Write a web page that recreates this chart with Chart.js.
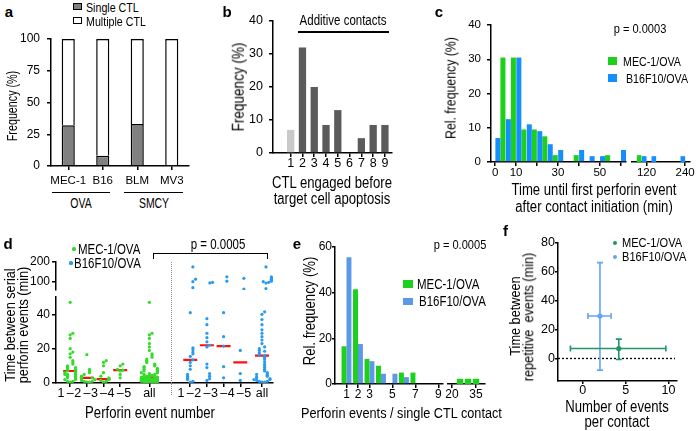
<!DOCTYPE html>
<html><head><meta charset="utf-8">
<script src="https://cdn.jsdelivr.net/npm/chart.js@4.4.1/dist/chart.umd.min.js"></script>
<style>
html,body{margin:0;padding:0;background:#fff;}
#root{position:relative;width:696px;height:431px;overflow:hidden;background:#fff;}
canvas{position:absolute;}
</style></head><body><div id="root"></div>
<script>
// ================= DATA =================
// (a)
const aCategories = ['MEC-1', 'B16', 'BLM', 'MV3'];
const aSingleCTL = [32, 8, 33, 0];
const aMultipleCTL = [68, 92, 67, 100];
const aYTicks = [0, 25, 50, 75, 100];
const aGroups = ['OVA', 'SMCY'];
// (b)
const bCTLEngaged = [1, 2, 3, 4, 5, 6, 7, 8, 9];
const bFrequency = [7, 32, 20, 8.5, 13, 0, 4.5, 8.5, 8.5];
const bYTicks = [0, 10, 20, 30, 40];
// (c)
const cBinStart = [0, 5, 10, 15, 20, 25, 30, 35, 40, 45, 50, 55, 60];
const cMEC1 = [30.5, 30.5, 9.5, 9.5, 7.5, 2, 0, 2, 0, 0, 2, 0, 0];
const cB16F10 = [7, 12.5, 30.5, 11, 9, 5.2, 3.5, 0, 3.5, 1.7, 1.7, 0, 3.5];
const cXTicks = [0, 10, 20, 30, 40, 50, 60];
const cXTickLabels = [0, 10, 30, 50];
const cTailBins = ['100', '120', '140', '160', '200', '240'];
const cTailMEC1 = [2, 0, 0, 0, 0, 0];
const cTailB16F10 = [0, 1.7, 1.7, 0, 0, 1.7];
const cTailTickLabels = ['120', '240'];
const cYTicks = [0, 10, 20, 30, 40];
// (d)
const dGroups = ['1–2', '2–3', '3–4', '4–5', 'all'];
const dNumberLabels = ['1', '2', '3', '4', '5'];
const dMEC1_12 = [47, 29, 28, 26, 20, 18, 17, 15, 13, 12, 11, 10, 9, 9, 8, 8, 7, 7, 6, 6, 5, 5, 5, 4, 4, 3, 3, 2, 2, 1, 1, 0.5];
const dMEC1_23 = [16.5, 8, 7, 6, 5, 4, 3.5, 3, 3, 2.5, 2, 1.5, 1, 1, 0.5, 0.5];
const dMEC1_34 = [13, 12, 10, 6, 4, 3, 2.5, 2, 1.5, 1, 0.5];
const dMEC1_45 = [11, 10, 8, 7.5, 7, 5, 3];
const dMEC1_all = [47, 29, 28, 26, 23, 21, 19, 17, 16, 15, 14, 13, 12.5, 12, 11, 10.5, 10, 9.5, 9, 8.5, 8, 8, 7.5, 7, 7, 6.5, 6, 6, 5.5, 5, 5, 4.5, 4.5, 4, 4, 4, 3.5, 3.5, 3.5, 3.5, 3, 3, 3, 3, 3, 2.5, 2.5, 2.5, 2.5, 2, 2, 2, 2, 2, 1.5, 1.5, 1.5, 1.5, 1, 1, 1, 1, 1, 0.5, 0.5, 0.5, 0.5, 0.5, 3.2, 2.8, 2.2, 1.8, 1.2, 0.8];
const dB16_12 = [175, 113, 100, 70, 41, 20.5, 19.5, 18, 17, 15.5, 13.5, 12, 10, 8, 5, 4, 3.5, 2.5, 2, 1, 0.5];
const dB16_23 = [97, 94, 37.5, 34, 29, 26.5, 24, 22, 21, 11, 9, 5.5, 4, 2.5, 1.5];
const dB16_34 = [125, 103, 41, 27, 21.5, 9.5, 3];
const dB16_45 = [117, 62, 19, 5.5, 1.5];
const dB16_all = [175, 125, 120, 115, 112, 108, 103, 100, 97, 93, 65, 41.5, 40, 37, 34, 31, 29, 27, 25, 23, 21, 20, 19, 18.5, 17.5, 16.5, 16, 15, 14, 12.5, 11, 10, 9, 8, 7, 6, 5, 5, 4.5, 4, 3.5, 3, 2.5, 2, 2, 1.5, 1, 1, 0.5, 0.5];
const dMEC1Median = [7, 3, 2.3, 7.5, 3.2];
const dB16Median = [13.5, 22, 21.5, 12, 16];
const dLowerTicks = [0, 20, 40];
const dUpperTicks = [100, 200];
// (e)
const eEvents = [1, 2, 3, 4, 5, 6, 7, 8, 9];
const eMEC1 = [16.5, 41.5, 11, 8, 0, 5, 5, 0, 0];
const eB16F10 = [55.5, 17.5, 10, 4.5, 4.5, 3, 0, 0, 0];
const eXTickLabels = [1, 2, 3, 5, 7, 9];
const eTailEvents = [25, 30, 35];
const eTailMEC1 = [2.3, 2.3, 2.3];
const eTailTicks = [20, 35];
const eYTicks = [0, 20, 40, 60];
// (f)
const fSeries = ['MEC-1/OVA', 'B16F10/OVA'];
const fMeanEvents = [4.2, 2.0];
const fEventsLow = [-1.45, 0.6];
const fEventsHigh = [9.7, 3.3];
const fMeanTime = [6.9, 29.4];
const fTimeLow = [-0.7, -8.1];
const fTimeHigh = [13.4, 66.4];
const fXTicks = [0, 5, 10];
const fYTicks = [0, 20, 40, 60, 80];

// ================= STYLE =================
const FONT = '"Liberation Sans", Arial, sans-serif';
const SX = 0.82; // horizontal condensing of label text, as in the figure
const GREEN = 'rgb(28,208,28)';
const BLUE_C = 'rgb(22,142,255)';
const BLUE_E = 'rgb(92,152,232)';
const GREEN_D = 'rgb(50,220,40)';
const BLUE_D = 'rgb(40,155,240)';
const GREEN_F = 'rgb(32,150,100)';
const BLUE_F = 'rgb(100,165,245)';

Chart.defaults.font.family = FONT;
Chart.defaults.font.lineHeight = 1;
Chart.defaults.color = '#000';
Chart.defaults.animation = false;
Chart.defaults.plugins.legend.display = false;
Chart.defaults.plugins.tooltip.enabled = false;

const root = document.getElementById('root');
function mk(left, top, w, h) {
  const c = document.createElement('canvas');
  c.width = w; c.height = h;
  c.style.cssText = `left:${left}px;top:${top}px;width:${w}px;height:${h}px`;
  root.appendChild(c);
  return c.getContext('2d');
}
function txt(s, x, y, o = {}) {
  const d = document.createElement('div');
  d.textContent = s;
  const size = o.size || 13;
  const sx = o.bold ? 1 : (o.sx ?? SX);
  const left = o.anchor === 'l';
  d.style.cssText = `position:absolute;left:${x}px;top:${y}px;font-size:${size}px;font-family:${FONT};font-weight:${o.bold ? 'bold' : 'normal'};white-space:pre;line-height:1;color:#000;transform-origin:${left ? '0 50%' : '50% 50%'};`;
  d.style.transform = `translate(${left ? '0' : '-50%'},-50%)` + (o.rot ? ` rotate(${o.rot}deg)` : '') + ` scaleX(${sx})`;
  root.appendChild(d);
}
function box(x, y, w, h, css) {
  const d = document.createElement('div');
  d.style.cssText = `position:absolute;left:${x}px;top:${y}px;width:${w}px;height:${h}px;box-sizing:border-box;${css}`;
  root.appendChild(d);
}
function linAxis(o) {
  return {
    type: 'linear', min: o.min, max: o.max, display: o.display ?? true,
    position: o.pos, offset: false,
    afterBuildTicks: s => { s.ticks = o.ticks.map(v => ({ value: v })); },
    afterFit: s => { if (o.pos === 'left') s.width = o.size; else s.height = o.size; },
    border: { display: true, color: '#000', width: 1.5 },
    grid: { display: true, drawOnChartArea: false, drawTicks: true, tickLength: o.tickLen ?? 4, color: '#000', lineWidth: 1.5, offset: false },
    ticks: { font: { size: o.font || 12 }, padding: o.pad ?? 3, color: '#000', autoSkip: false, maxRotation: 0, callback: o.cb || (v => String(v)) }
  };
}
const base = (pad) => ({ responsive: false, devicePixelRatio: 1, animation: false, layout: { padding: pad }, plugins: { legend: { display: false }, tooltip: { enabled: false } } });

// ================= (a) =================
new Chart(mk(0, 24, 194, 166), {
  type: 'bar',
  data: { labels: aCategories, datasets: [
    { label: 'Single CTL', data: aSingleCTL, backgroundColor: '#808080', borderColor: '#000', borderWidth: 1.5, borderSkipped: 'start', barPercentage: 0.38, categoryPercentage: 1 },
    { label: 'Multiple CTL', data: aMultipleCTL, backgroundColor: '#fff', borderColor: '#000', borderWidth: 1.5, borderSkipped: 'start', barPercentage: 0.38, categoryPercentage: 1 }
  ] },
  options: Object.assign(base({ top: 15, right: 5, left: 0, bottom: 0 }), {
    scales: {
      x: { type: 'category', stacked: true, offset: true, afterFit: s => { s.height = 24; },
        border: { display: true, color: '#000', width: 1.5 },
        grid: { offset: false, drawOnChartArea: false, tickLength: 4, color: '#000', lineWidth: 1.5 },
        ticks: { font: { size: 11.5 }, padding: 5, color: '#000', autoSkip: false, maxRotation: 0 } },
      y: Object.assign(linAxis({ min: 0, max: 100, ticks: aYTicks, pos: 'left', size: 51, pad: 7, font: 12 }), { stacked: true })
    }
  })
});
txt('a', 9, 11, { bold: true, size: 15 });
box(73, 3, 9, 7, 'background:#808080;border:1.2px solid #000;');
txt('Single CTL', 86, 6.5, { anchor: 'l', size: 13 });
box(73, 17, 9, 7, 'background:#fff;border:1.2px solid #000;');
txt('Multiple CTL', 86, 21, { anchor: 'l', size: 13 });
txt('Frequency (%)', 12, 106, { rot: -90, size: 14.5, sx: 0.74 });
box(52, 191.5, 58, 1.5, 'background:#000;');
box(124, 191.5, 59, 1.5, 'background:#000;');
txt(aGroups[0], 81, 203, { size: 14.5, sx: 0.72 });
txt(aGroups[1], 154, 203, { size: 14.5, sx: 0.72 });

// ================= (b) =================
new Chart(mk(225, 7, 172, 170), {
  type: 'bar',
  data: { datasets: [{ data: bCTLEngaged.map((n, i) => ({ x: n, y: bFrequency[i] })),
    backgroundColor: bCTLEngaged.map(n => n === 1 ? '#c9c9c9' : '#5b5b5b'), barPercentage: 0.62, categoryPercentage: 1 }] },
  options: Object.assign(base({ top: 14, right: 5, left: 0, bottom: 0 }), {
    scales: {
      x: linAxis({ min: -0.5, max: 9.6, ticks: bCTLEngaged, pos: 'bottom', size: 24, pad: 0, font: 12.5 }),
      y: linAxis({ min: 0, max: 40, ticks: bYTicks, pos: 'left', size: 48, pad: 6, font: 12.5 })
    }
  })
});
txt('b', 227, 11, { bold: true, size: 15 });
txt('Additive contacts', 343, 20, { size: 14 });
box(298, 31, 91, 2, 'background:#000;');
txt('Frequency (%)', 238, 87, { rot: -90, size: 16.5 });
txt('CTL engaged before', 332, 183, { size: 16 });
txt('target cell apoptosis', 332, 199, { size: 16 });

// ================= (c) =================
const C_BIN = 5;
new Chart(mk(440, 12, 191, 174), {
  type: 'bar',
  data: { datasets: [
    { label: 'B16F10/OVA', data: cBinStart.map((s, i) => ({ x: s + C_BIN / 2, y: cB16F10[i] })), backgroundColor: BLUE_C, barPercentage: 1, categoryPercentage: 0.96 },
    { label: 'MEC-1/OVA', data: cBinStart.map((s, i) => ({ x: s + C_BIN / 2, y: cMEC1[i] })), backgroundColor: GREEN, barPercentage: 1, categoryPercentage: 0.96 }
  ] },
  options: Object.assign(base({ top: 13, right: 5, left: 0, bottom: 0 }), {
    scales: {
      x: linAxis({ min: -2, max: 62.5, ticks: cXTicks, pos: 'bottom', size: 24, pad: 1, font: 11.5, cb: v => cXTickLabels.includes(v) ? String(v) : '' }),
      y: linAxis({ min: 0, max: 40, ticks: cYTicks, pos: 'left', size: 51, pad: 6, font: 11.5 })
    }
  })
});
new Chart(mk(630, 12, 66, 174), {
  type: 'bar',
  data: { labels: cTailBins, datasets: [
    { label: 'B16F10/OVA', data: cTailB16F10, backgroundColor: BLUE_C, barPercentage: 1, categoryPercentage: 0.96 },
    { label: 'MEC-1/OVA', data: cTailMEC1, backgroundColor: GREEN, barPercentage: 1, categoryPercentage: 0.96 }
  ] },
  options: Object.assign(base({ top: 13, right: 3, left: 2, bottom: 0 }), {
    scales: {
      x: { type: 'category', offset: true, afterFit: s => { s.height = 24; },
        border: { display: true, color: '#000', width: 1.5 },
        grid: { offset: false, drawOnChartArea: false, tickLength: 4, color: '#000', lineWidth: 1.5 },
        ticks: { font: { size: 11.5 }, padding: 1, color: '#000', autoSkip: false, maxRotation: 0,
          callback: (v, i) => cTailTickLabels.includes(cTailBins[i]) ? cTailBins[i] : null } },
      y: { display: false, min: 0, max: 40 }
    }
  })
});
txt('c', 439, 11, { bold: true, size: 15 });
txt('p = 0.0003', 640, 29, { size: 13.5 });
box(608, 57, 9, 8, `background:${GREEN};`);
txt('MEC-1/OVA', 623, 61, { anchor: 'l', size: 13 });
box(608, 74, 9, 8, `background:${BLUE_C};`);
txt('B16F10/OVA', 626, 78, { anchor: 'l', size: 13 });
txt('Rel. frequency (%)', 450, 88, { rot: -90, size: 15 });
txt('Time until first perforin event', 594, 190, { size: 16 });
txt('after contact initiation (min)', 594, 207, { size: 16 });

// ================= (d) =================
const D_LEFT_COL = [1, 3, 5, 7, 10.5];
const D_RIGHT_COL = [15.4, 17.4, 19.4, 21.4, 24];
const dTicks = [];
[D_LEFT_COL, D_RIGHT_COL].forEach(cols => {
  dNumberLabels.forEach((n, j) => dTicks.push({ v: cols[0] - 1.1 + 2 * j, l: n, mark: false }));
  for (let k = 0; k < 4; k++) dTicks.push({ v: cols[k], l: '–', mark: true });
  dTicks.push({ v: cols[4], l: dGroups[4], mark: true });
});
dTicks.sort((a, b) => a.v - b.v);
const SWARM = [0, 1, -1, 2, -2, 3, -3];
function swarm(values, cx) {
  const placed = [];
  return [...values].sort((a, b) => a - b).map(v => {
    const thr = v > 50 ? 14 : 1.8;
    const k = placed.filter(p => Math.abs(p - v) < thr).length;
    placed.push(v);
    return { x: cx + SWARM[k % SWARM.length] * 0.32, y: v };
  });
}
const dMEC1 = [dMEC1_12, dMEC1_23, dMEC1_34, dMEC1_45, dMEC1_all];
const dB16 = [dB16_12, dB16_23, dB16_34, dB16_45, dB16_all];
const greenPts = dMEC1.flatMap((vals, i) => swarm(vals, D_LEFT_COL[i]));
const bluePts = dB16.flatMap((vals, i) => swarm(vals, D_RIGHT_COL[i]));
const medianPts = [...D_LEFT_COL.map((x, i) => ({ x, y: dMEC1Median[i] })), ...D_RIGHT_COL.map((x, i) => ({ x, y: dB16Median[i] }))];
function dDatasets(filter) {
  return [
    { data: greenPts.filter(filter), pointRadius: 1.6, pointBackgroundColor: GREEN_D, pointBorderWidth: 0 },
    { data: bluePts.filter(filter), pointRadius: 1.6, pointBackgroundColor: BLUE_D, pointBorderWidth: 0 },
    { data: medianPts.filter(filter), pointStyle: 'line', pointRadius: 7, pointBorderColor: '#ff1010', pointBorderWidth: 2.2 }
  ];
}
// upper (broken) part
new Chart(mk(0, 253, 282, 46), {
  type: 'scatter',
  data: { datasets: dDatasets(p => p.y > 50) },
  options: Object.assign(base({ top: 9, right: 5, left: 0, bottom: 9 }), {
    scales: {
      x: Object.assign(linAxis({ min: -0.7, max: 25.3, ticks: [0], pos: 'bottom', size: 0 }), { display: false }),
      y: linAxis({ min: 58, max: 200, ticks: dUpperTicks, pos: 'left', size: 56, pad: 2, font: 12 })
    }
  })
});
// lower part
new Chart(mk(0, 288, 282, 118), {
  type: 'scatter',
  data: { datasets: dDatasets(p => p.y <= 50) },
  options: Object.assign(base({ top: 9, right: 5, left: 0, bottom: 0 }), {
    scales: {
      x: (() => {
        const ax = linAxis({ min: -0.7, max: 25.3, ticks: dTicks.map(t => t.v), pos: 'bottom', size: 23, pad: 0, font: 12.5,
          cb: (v, i) => dTicks[i].l });
        ax.grid.color = ctx => (ctx.index !== undefined && dTicks[ctx.index] && dTicks[ctx.index].mark) ? '#000' : 'rgba(0,0,0,0)';
        return ax;
      })(),
      y: linAxis({ min: 0, max: 50, ticks: dLowerTicks, pos: 'left', size: 56, pad: 2, font: 12 })
    }
  })
});
txt('d', 8, 243, { bold: true, size: 15 });
box(72.4, 247.4, 3.2, 3.2, `background:${GREEN_D};border-radius:50%;`);
txt('MEC-1/OVA', 78, 248.5, { anchor: 'l', size: 14 });
box(69.4, 261.4, 3.2, 3.2, `background:${BLUE_D};border-radius:50%;`);
txt('B16F10/OVA', 74, 263, { anchor: 'l', size: 14 });
txt('p = 0.0005', 218, 244, { size: 14 });
box(153, 253, 115, 6, 'border-top:1.5px solid #000;border-left:1.5px solid #000;border-right:1.5px solid #000;');
box(170.5, 262, 2, 133, 'border-left:1.5px dotted #8a8a8a;');
txt('Time between serial', 9.5, 325, { rot: -90, size: 15.5 });
txt('perforin events (min)', 22.5, 325, { rot: -90, size: 15.5 });
txt('Perforin event number', 150, 413, { size: 16 });

// ================= (e) =================
new Chart(mk(296, 239, 152, 169), {
  type: 'bar',
  data: { datasets: [
    { label: 'MEC-1/OVA', data: eEvents.map((n, i) => ({ x: n, y: eMEC1[i] })), backgroundColor: GREEN, barPercentage: 1, categoryPercentage: 0.86 },
    { label: 'B16F10/OVA', data: eEvents.map((n, i) => ({ x: n, y: eB16F10[i] })), backgroundColor: BLUE_E, barPercentage: 1, categoryPercentage: 0.86 }
  ] },
  options: Object.assign(base({ top: 8, right: 5, left: 0, bottom: 0 }), {
    scales: {
      x: linAxis({ min: 0, max: 9.4, ticks: eEvents, pos: 'bottom', size: 24, pad: 0.5, font: 12, cb: v => eXTickLabels.includes(v) ? String(v) : null }),
      y: linAxis({ min: 0, max: 60, ticks: eYTicks, pos: 'left', size: 39, pad: 0, font: 12, tickLen: 3 })
    }
  })
});
new Chart(mk(443, 239, 47, 169), {
  type: 'bar',
  data: { datasets: [
    { label: 'MEC-1/OVA', data: eTailEvents.map((n, i) => ({ x: n, y: eTailMEC1[i] })), backgroundColor: GREEN, barPercentage: 0.8, categoryPercentage: 1 }
  ] },
  options: Object.assign(base({ top: 8, right: 5, left: 5, bottom: 0 }), {
    scales: {
      x: linAxis({ min: 17.5, max: 40.6, ticks: eTailTicks, pos: 'bottom', size: 24, pad: 0.5, font: 12 }),
      y: { display: false, min: 0, max: 60 }
    }
  })
});
txt('e', 297, 243, { bold: true, size: 15 });
txt('p = 0.0005', 460, 245, { size: 13.5 });
box(403, 280, 10, 7.5, `background:${GREEN};`);
txt('MEC-1/OVA', 417, 284, { anchor: 'l', size: 14 });
box(403, 297.5, 10, 7.5, `background:${BLUE_E};`);
txt('B16F10/OVA', 419, 301, { anchor: 'l', size: 14 });
txt('Rel. frequency (%)', 310, 311, { rot: -90, size: 16 });
txt('Perforin events / single CTL contact', 301, 413, { anchor: 'l', size: 15.5 });

// ================= (f) =================
const fColors = [GREEN_F, BLUE_F];
const fPlugin = {
  id: 'fExtras',
  beforeDatasetsDraw(chart) {
    const { ctx, chartArea, scales: { x, y } } = chart;
    ctx.save();
    ctx.strokeStyle = '#000'; ctx.lineWidth = 1.3; ctx.setLineDash([2, 2]);
    const y0 = y.getPixelForValue(0);
    ctx.beginPath(); ctx.moveTo(chartArea.left, y0); ctx.lineTo(chartArea.right - 2, y0); ctx.stroke();
    ctx.setLineDash([]);
    [1, 0].forEach(i => {
      ctx.strokeStyle = fColors[i]; ctx.lineWidth = 1.6;
      const cx = x.getPixelForValue(fMeanEvents[i]), cy = y.getPixelForValue(fMeanTime[i]);
      const xl = x.getPixelForValue(fEventsLow[i]), xh = x.getPixelForValue(fEventsHigh[i]);
      const yl = y.getPixelForValue(fTimeLow[i]), yh = y.getPixelForValue(fTimeHigh[i]);
      const cap = 3;
      ctx.beginPath();
      ctx.moveTo(xl, cy); ctx.lineTo(xh, cy);
      ctx.moveTo(xl, cy - cap); ctx.lineTo(xl, cy + cap);
      ctx.moveTo(xh, cy - cap); ctx.lineTo(xh, cy + cap);
      ctx.moveTo(cx, yl); ctx.lineTo(cx, yh);
      ctx.moveTo(cx - cap, yl); ctx.lineTo(cx + cap, yl);
      ctx.moveTo(cx - cap, yh); ctx.lineTo(cx + cap, yh);
      ctx.stroke();
    });
    ctx.restore();
  }
};
new Chart(mk(530, 235, 152, 170), {
  type: 'scatter',
  data: { datasets: fSeries.map((name, i) => ({ label: name, data: [{ x: fMeanEvents[i], y: fMeanTime[i] }], pointRadius: 2.6, pointBackgroundColor: fColors[i], pointBorderWidth: 0 })) },
  options: Object.assign(base({ top: 8, right: 5, left: 0, bottom: 0 }), {
    scales: {
      x: linAxis({ min: -2.9, max: 11, ticks: fXTicks, pos: 'bottom', size: 24, pad: 0, font: 12.5, tickLen: 3 }),
      y: linAxis({ min: -15.6, max: 80, ticks: fYTicks, pos: 'left', size: 28, pad: 0, font: 12.5, tickLen: 3 })
    }
  }),
  plugins: [fPlugin]
});
txt('f', 505.5, 230, { bold: true, size: 15 });
box(612.8, 241.1, 4.4, 4.4, `background:${GREEN_F};border-radius:50%;`);
txt('MEC-1/OVA', 621.7, 243, { anchor: 'l', size: 13.5 });
box(612.8, 255.1, 4.4, 4.4, `background:${BLUE_F};border-radius:50%;`);
txt('B16F10/OVA', 621.7, 257, { anchor: 'l', size: 13.5 });
txt('Time between', 515, 316, { rot: -90, size: 15.5 });
txt('repetitive  events (min)', 528, 317, { rot: -90, size: 15.5 });
txt('Number of events', 617, 407, { size: 16 });
txt('per contact', 617, 422, { size: 16 });
</script></body></html>
